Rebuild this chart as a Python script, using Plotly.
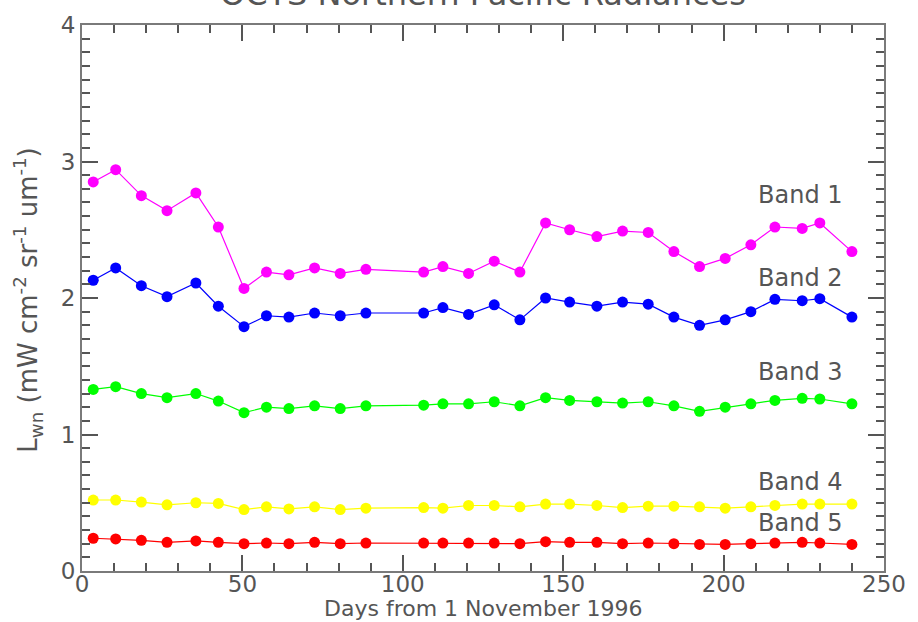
import plotly.graph_objects as go

# Days from 1 November 1996 (8-day composites)
days = [3.5, 10.5, 18.5, 26.5, 35.5, 42.5, 50.5, 57.5, 64.5, 72.5,
        80.5, 88.5, 106.5, 112.5, 120.5, 128.5, 136.5, 144.5, 152, 160.5,
        168.5, 176.5, 184.5, 192.5, 200.5, 208.5, 216, 224.5, 230, 240]

band1 = [2.85, 2.94, 2.75, 2.64, 2.77, 2.52, 2.07, 2.19, 2.17, 2.22,
         2.18, 2.21, 2.19, 2.23, 2.18, 2.27, 2.19, 2.55, 2.50, 2.45,
         2.49, 2.48, 2.34, 2.23, 2.29, 2.39, 2.52, 2.51, 2.55, 2.34]
band2 = [2.13, 2.22, 2.09, 2.01, 2.11, 1.94, 1.79, 1.87, 1.86, 1.89,
         1.87, 1.89, 1.89, 1.93, 1.88, 1.95, 1.84, 2.00, 1.97, 1.94,
         1.97, 1.955, 1.86, 1.80, 1.84, 1.90, 1.99, 1.98, 1.995, 1.86]
band3 = [1.33, 1.35, 1.30, 1.27, 1.30, 1.245, 1.16, 1.20, 1.19, 1.21,
         1.19, 1.21, 1.215, 1.225, 1.225, 1.24, 1.21, 1.27, 1.25, 1.24,
         1.23, 1.24, 1.21, 1.17, 1.20, 1.225, 1.25, 1.265, 1.26, 1.225]
band4 = [0.52, 0.52, 0.505, 0.485, 0.50, 0.495, 0.45, 0.47, 0.455, 0.47,
         0.45, 0.46, 0.465, 0.46, 0.48, 0.48, 0.47, 0.49, 0.49, 0.48,
         0.465, 0.475, 0.475, 0.47, 0.46, 0.47, 0.48, 0.49, 0.49, 0.49]
band5 = [0.24, 0.235, 0.225, 0.21, 0.22, 0.21, 0.20, 0.205, 0.20, 0.21,
         0.20, 0.205, 0.205, 0.205, 0.205, 0.205, 0.20, 0.215, 0.21, 0.21,
         0.20, 0.205, 0.20, 0.195, 0.195, 0.20, 0.205, 0.21, 0.205, 0.195]

band_names = ["Band 1", "Band 2", "Band 3", "Band 4", "Band 5"]
band_values = [band1, band2, band3, band4, band5]
band_colors = ["#ff00ff", "#0000ff", "#00ff00", "#ffff00", "#ff0000"]
# label anchor heights (data units) for the band names at the right
label_y = [2.755, 2.145, 1.46, 0.655, 0.35]

FONT = "DejaVu Sans"
TEXT = "#555555"
AXIS = "#7a7a7a"

fig = go.Figure()
for name, vals, col in zip(band_names, band_values, band_colors):
    fig.add_trace(go.Scatter(
        x=days, y=vals, mode="lines+markers", name=name,
        line=dict(color=col, width=1.2),
        marker=dict(color=col, size=11, symbol="circle"),
        showlegend=False,
    ))

annotations = []
for name, ly in zip(band_names, label_y):
    annotations.append(dict(
        x=210, y=ly, xref="x", yref="y", text=name, showarrow=False,
        xanchor="left", yanchor="middle",
        font=dict(family=FONT, size=24, color=TEXT),
    ))

annotations.append(dict(
    x=0.5, y=1.057, xref="paper", yref="paper",
    text="OCTS Northern Pacific Radiances", showarrow=False,
    xanchor="center", yanchor="middle",
    font=dict(family=FONT, size=32, color=TEXT),
))
annotations.append(dict(
    x=0.5, y=-0.0695, xref="paper", yref="paper",
    text="Days from 1 November 1996", showarrow=False,
    xanchor="center", yanchor="middle",
    font=dict(family=FONT, size=22, color=TEXT),
))
annotations.append(dict(
    x=-0.068, y=0.496, xref="paper", yref="paper",
    text="L<sub>wn</sub> (mW cm<sup>-2</sup> sr<sup>-1</sup> um<sup>-1</sup>)",
    showarrow=False, textangle=-90,
    xanchor="center", yanchor="middle",
    font=dict(family=FONT, size=26, color=TEXT),
))

axis_common = dict(
    showline=True, linecolor=AXIS, linewidth=2, mirror="allticks",
    ticks="inside", ticklen=16, tickwidth=2, tickcolor="#555555",
    showgrid=False, zeroline=False,
)

fig.update_layout(
    width=918, height=622,
    margin=dict(l=82, r=26, t=16, b=51),
    paper_bgcolor="white", plot_bgcolor="white",
    xaxis=dict(range=[0, 250], dtick=50, tick0=0,
               ticklabelstandoff=-9,
               tickfont=dict(family=FONT, size=23, color=TEXT),
               minor=dict(ticks="inside", ticklen=8, dtick=10, tickwidth=2,
                          tickcolor="#555555"),
               **axis_common),
    yaxis=dict(range=[0, 4], dtick=1, tick0=0,
               tickfont=dict(family=FONT, size=23, color=TEXT),
               minor=dict(ticks="inside", ticklen=8, dtick=0.1, tickwidth=2,
                          tickcolor="#555555"),
               **axis_common),
    annotations=annotations,
)

fig.write_html("out.html")
